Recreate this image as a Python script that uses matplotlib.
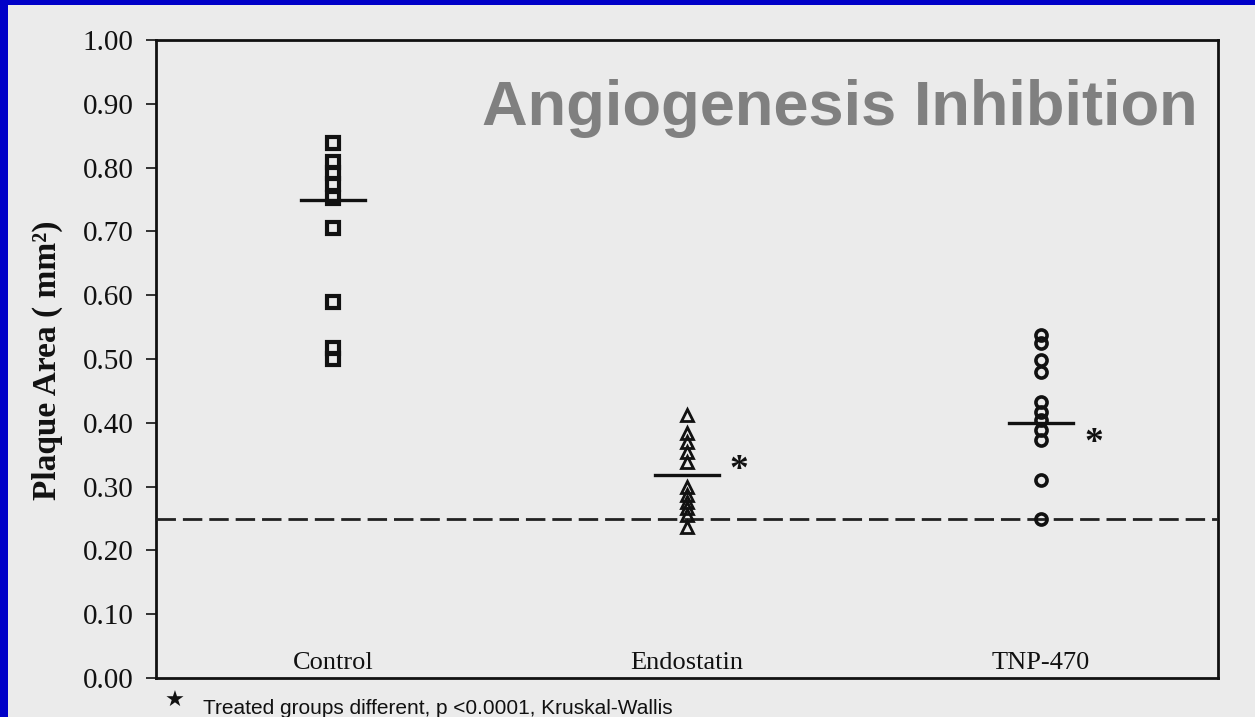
import matplotlib
matplotlib.use("Agg")
import matplotlib.pyplot as plt
from matplotlib.patches import Rectangle
import numpy as np

# ---- data ----
categories = ["Control", "Endostatin", "TNP-470"]
control = [0.838, 0.809, 0.792, 0.775, 0.752, 0.706, 0.590, 0.517, 0.500]
endostatin = [0.412, 0.384, 0.370, 0.355, 0.339, 0.300, 0.287, 0.276, 0.266, 0.255, 0.237]
tnp470 = [0.538, 0.525, 0.498, 0.480, 0.433, 0.417, 0.404, 0.389, 0.373, 0.311, 0.250]
group_lines = [0.750, 0.318, 0.400]
significant = [False, True, True]
baseline_value = 0.25
yticks = [0.0, 0.1, 0.2, 0.3, 0.4, 0.5, 0.6, 0.7, 0.8, 0.9, 1.0]
title = "Angiogenesis Inhibition"
ylabel = "Plaque Area ( mm\u00b2)"
footnote = "Treated groups different, p <0.0001, Kruskal-Wallis"

W, H = 1255, 717
bg = "#ebebeb"
fig = plt.figure(figsize=(W / 100, H / 100), dpi=100, facecolor=bg)

# blue frame (left + top)
fig.patches.append(Rectangle((0, 0), 8 / W, 1, transform=fig.transFigure,
                             facecolor="#0000c8", edgecolor="none", zorder=0))
fig.patches.append(Rectangle((0, 1 - 5 / H), 1, 5 / H, transform=fig.transFigure,
                             facecolor="#0000c8", edgecolor="none", zorder=0))

L, R, T, B = 156, 1218, 40, 678
ax = fig.add_axes([L / W, (H - B) / H, (R - L) / W, (B - T) / H])
ax.set_facecolor(bg)
ax.set_xlim(0.5, 3.5)
ax.set_ylim(0, 1.0)

serif = "Liberation Serif"
sans = "Liberation Sans"

groups = [control, endostatin, tnp470]
markers = ["s", "^", "o"]
msizes = [8, 8.5, 8]
mews = [3.0, 2.0, 2.6]
for i, (vals, m) in enumerate(zip(groups, markers)):
    x = np.full(len(vals), i + 1)
    ax.plot(x, vals, linestyle="none", marker=m, markersize=msizes[i],
            markerfacecolor="none", markeredgecolor="#111111",
            markeredgewidth=mews[i], zorder=4)
    ax.plot([i + 1 - 0.09, i + 1 + 0.09], [group_lines[i]] * 2,
            color="#111111", lw=2.4, zorder=5)
    ax.text(i + 1, 0.014, categories[i], ha="center", va="baseline",
            fontsize=19, family=serif, color="#111111")

# asterisks
ast_pos = {1: (2.145, 0.325), 2: (3.15, 0.368)}
for i, s in enumerate(significant):
    if s:
        xx, yy = ast_pos[i]
        ax.text(xx, yy, "*", ha="center", va="center", fontsize=27,
                family=serif, fontweight="bold", color="#111111")

# dashed baseline
ln, = ax.plot([0.5, 3.5], [baseline_value] * 2, color="#222222", lw=2.0, zorder=3)
ln.set_dashes([7, 2.5])

# axes styling
for sp in ax.spines.values():
    sp.set_color("#111111")
    sp.set_linewidth(2.0)
ax.set_xticks([])
ax.set_yticks(yticks)
ax.set_yticklabels([f"{v:.2f}" for v in yticks], family=serif, fontsize=21,
                   color="#111111")
ax.tick_params(axis="y", direction="out", length=7, width=1.2, pad=9,
               color="#111111")

fig.text(47 / W, (H - 360) / H, ylabel, rotation=90, ha="center", va="center",
         fontsize=24, fontweight="bold", family=serif, color="#111111")

fig.text(1198 / W, (H - 125) / H, title, ha="right", va="baseline",
         fontsize=45.5, fontweight="bold", family=sans, color="#808080")

fig.text(175 / W, (H - 701) / H, "\u2605", ha="center", va="center",
         fontsize=16, family="DejaVu Sans", color="#111111")
fig.text(203 / W, (H - 714) / H, footnote, ha="left", va="baseline",
         fontsize=15, family=sans, color="#111111")

fig.savefig("out.png", dpi=100, facecolor=bg)
